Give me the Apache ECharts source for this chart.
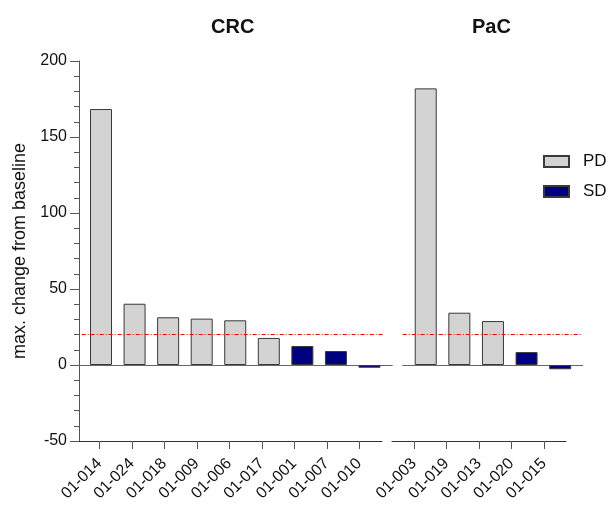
<!DOCTYPE html>
<html>
<head>
<meta charset="utf-8">
<script src="https://cdn.jsdelivr.net/npm/echarts@6/dist/echarts.min.js"></script>
<style>
  html, body { margin: 0; padding: 0; background: #fff; }
  #chart { width: 608px; height: 505px; }
</style>
</head>
<body>
<div id="chart"></div>
<script>
// data
const crcPatients = ['01-014', '01-024', '01-018', '01-009', '01-006', '01-017', '01-001', '01-007', '01-010'];
const crcChange = [168.4, 40.3, 31.4, 30.5, 29.4, 17.8, 12.5, 9.2, -1.8];
const crcResponse = ['PD', 'PD', 'PD', 'PD', 'PD', 'PD', 'SD', 'SD', 'SD'];

const pacPatients = ['01-003', '01-019', '01-013', '01-020', '01-015'];
const pacChange = [182, 34.4, 28.9, 8.5, -2.8];
const pacResponse = ['PD', 'PD', 'PD', 'SD', 'SD'];

const responses = ['PD', 'SD'];
const yMin = -50, yMax = 200, yStep = 50;
const threshold = 20;

const FONT = 'Liberation Sans, Arial, sans-serif';
const colors = { PD: '#d3d3d3', SD: '#000080' };

const chart = echarts.init(document.getElementById('chart'));

// bars of one panel, one series per response type
const panelSeries = (patients, change, resp, axisIdx, lineFrom, lineTo) => {
  return responses.map((r, k) => {
    const s = {
      name: r,
      type: 'bar',
      xAxisIndex: axisIdx,
      yAxisIndex: axisIdx,
      stack: 'p' + axisIdx,
      barWidth: 22,
      itemStyle: { color: colors[r], borderColor: '#3a3a3a', borderWidth: 1 },
      data: patients.map((p, i) => [i, change[i], resp[i]]).filter(d => d[2] === r).map(d => [d[0], d[1]])
    };
    if (k === 0) {
      s.markLine = {
        silent: true,
        symbol: 'none',
        label: { show: false },
        lineStyle: { color: '#ff0000', width: 1, type: [4, 2, 1, 2] },
        data: [[{ coord: [lineFrom, threshold] }, { coord: [lineTo, threshold] }]]
      };
    }
    return s;
  });
}

// bottom axis with the patient labels
const labelAxis = (gridIdx, patients, min, max) => ({
  type: 'value',
  gridIndex: gridIdx,
  min: min,
  max: max,
  axisLine: { show: true, onZero: false, lineStyle: { color: '#333', width: 1 } },
  axisTick: { show: true, length: 8, customValues: patients.map((p, i) => i), lineStyle: { color: '#555' } },
  axisLabel: {
    customValues: patients.map((p, i) => i),
    formatter: v => patients[v],
    rotate: 45,
    margin: 20,
    fontSize: 16,
    color: '#111',
    fontFamily: FONT
  },
  splitLine: { show: false }
});

// axis at zero under the bars
const barAxis = (gridIdx, min, max) => ({
  type: 'value',
  gridIndex: gridIdx,
  min: min,
  max: max,
  axisLine: { show: true, onZero: true, lineStyle: { color: '#666', width: 1 } },
  axisTick: { show: false },
  axisLabel: { show: false },
  splitLine: { show: false }
});

const hiddenY = (gridIdx, min, max) => ({
  type: 'value', gridIndex: gridIdx, min: min, max: max, show: false, splitLine: { show: false }
});

const option = {
  animation: false,
  textStyle: { fontFamily: FONT },
  title: [
    { text: 'CRC', left: 211, top: 17, padding: 0, textStyle: { fontSize: 20, fontWeight: 'bold', color: '#111', fontFamily: FONT } },
    { text: 'PaC', left: 472, top: 17, padding: 0, textStyle: { fontSize: 20, fontWeight: 'bold', color: '#111', fontFamily: FONT } }
  ],
  legend: {
    data: responses,
    orient: 'vertical',
    left: 543,
    top: 153,
    padding: 0,
    itemWidth: 25,
    itemHeight: 11,
    itemGap: 13,
    icon: 'rect',
    textStyle: { fontSize: 17, color: '#111', fontFamily: FONT, padding: [0, 0, 0, 9] }
  },
  grid: [
    { left: 79, top: 61, width: 313.3, height: 380 },
    { left: 79, top: 61, width: 303, height: 380 },
    { left: 402.7, top: 61, width: 180, height: 380 },
    { left: 392, top: 61, width: 174, height: 380 }
  ],
  xAxis: [
    barAxis(0, -0.656, 8.68),
    labelAxis(1, crcPatients, -0.625, 8.70),
    barAxis(2, -0.685, 4.67),
    labelAxis(3, pacPatients, -0.677, 4.677)
  ],
  yAxis: [
    {
      type: 'value',
      gridIndex: 0,
      min: yMin,
      max: yMax,
      interval: yStep,
      name: 'max. change from baseline',
      nameLocation: 'middle',
      nameGap: 50,
      nameTextStyle: { fontSize: 18, color: '#111', fontFamily: FONT },
      axisLine: { show: true, onZero: false, lineStyle: { color: '#555', width: 1 } },
      axisTick: { show: true, length: 9, lineStyle: { color: '#555' } },
      minorTick: { show: true, splitNumber: 5, length: 5, lineStyle: { color: '#555' } },
      axisLabel: { margin: 12, fontSize: 16, color: '#111', fontFamily: FONT },
      splitLine: { show: false }
    },
    hiddenY(1, 0, 1),
    hiddenY(2, yMin, yMax),
    hiddenY(3, 0, 1)
  ],
  series: [
    ...panelSeries(crcPatients, crcChange, crcResponse, 0, -0.576, 8.432),
    ...panelSeries(pacPatients, pacChange, pacResponse, 2, -0.685, 4.66)
  ]
};

chart.setOption(option);
</script>
</body>
</html>
